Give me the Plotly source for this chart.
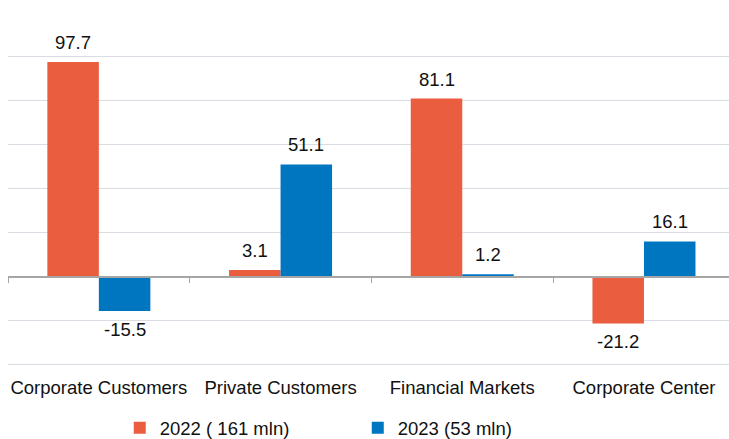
import plotly.graph_objects as go

categories = ["Corporate Customers", "Private Customers", "Financial Markets", "Corporate Center"]
values_2022 = [97.7, 3.1, 81.1, -21.2]
values_2023 = [-15.5, 51.1, 1.2, 16.1]
series_names = ["2022 ( 161 mln)", "2023 (53 mln)"]
colors = ["#EA5D3F", "#0076C0"]

BARGAP = 0.433
FONT = "Liberation Sans, Arial, sans-serif"
FS = 18.5
TXT = "#111111"
YMIN, YMAX = -41, 120

fig = go.Figure()
for name, vals, col in zip(series_names, [values_2022, values_2023], colors):
    fig.add_trace(go.Bar(x=categories, y=vals, name=name, marker=dict(color=col, line=dict(width=0))))

# invisible trace on xaxis2 so the zero-crossing axis renders
fig.add_trace(go.Scatter(x=[0], y=[0], xaxis="x2", yaxis="y", mode="markers",
                         marker=dict(opacity=0), showlegend=False, hoverinfo="skip"))

half = (1 - BARGAP) / 4
annotations = []
for vals, sign in [(values_2022, -1), (values_2023, 1)]:
    for i, v in enumerate(vals):
        annotations.append(dict(
            x=i + sign * half, y=v, xref="x", yref="y", text=f"{v:.1f}", showarrow=False,
            yanchor="bottom" if v >= 0 else "top", yshift=7 if v >= 0 else -6,
            font=dict(family=FONT, size=FS, color=TXT)))

n = len(categories)
plot_h = (YMAX - YMIN) * 2.2
fig.update_layout(
    width=729, height=439,
    margin=dict(l=8, r=0, t=12.5, b=439 - 12.5 - plot_h, autoexpand=False),
    paper_bgcolor="white", plot_bgcolor="white",
    barmode="group", bargap=BARGAP, bargroupgap=0,
    font=dict(family=FONT, size=FS, color=TXT),
    xaxis=dict(type="category", range=[-0.5, n - 0.532], showline=False, showgrid=False,
               ticks="outside", ticklen=4, tickcolor="rgba(0,0,0,0)", automargin=False,
               tickfont=dict(family=FONT, size=FS, color=TXT)),
    xaxis2=dict(overlaying="x", anchor="free", position=(0 - YMIN) / (YMAX - YMIN),
                range=[-0.5, n - 0.532],
                showline=True, linecolor="#A6A6A6", linewidth=2, showgrid=False, zeroline=False,
                ticks="outside", ticklen=5, tickwidth=1, tickcolor="#A6A6A6", automargin=False,
                tickvals=[i - 0.5 for i in range(n + 1)], showticklabels=False),
    yaxis=dict(range=[YMIN, YMAX], tick0=0, dtick=20, showgrid=True, gridcolor="#D9DDE3", gridwidth=1.3,
               zeroline=False, showticklabels=False, showline=False, automargin=False),
    legend=dict(orientation="h", x=0.155, xanchor="left", y=-0.173, yanchor="middle",
                entrywidth=193, entrywidthmode="pixels",
                font=dict(family=FONT, size=FS, color=TXT), bgcolor="rgba(0,0,0,0)"),
    annotations=annotations,
)

fig.write_html("out.html")
